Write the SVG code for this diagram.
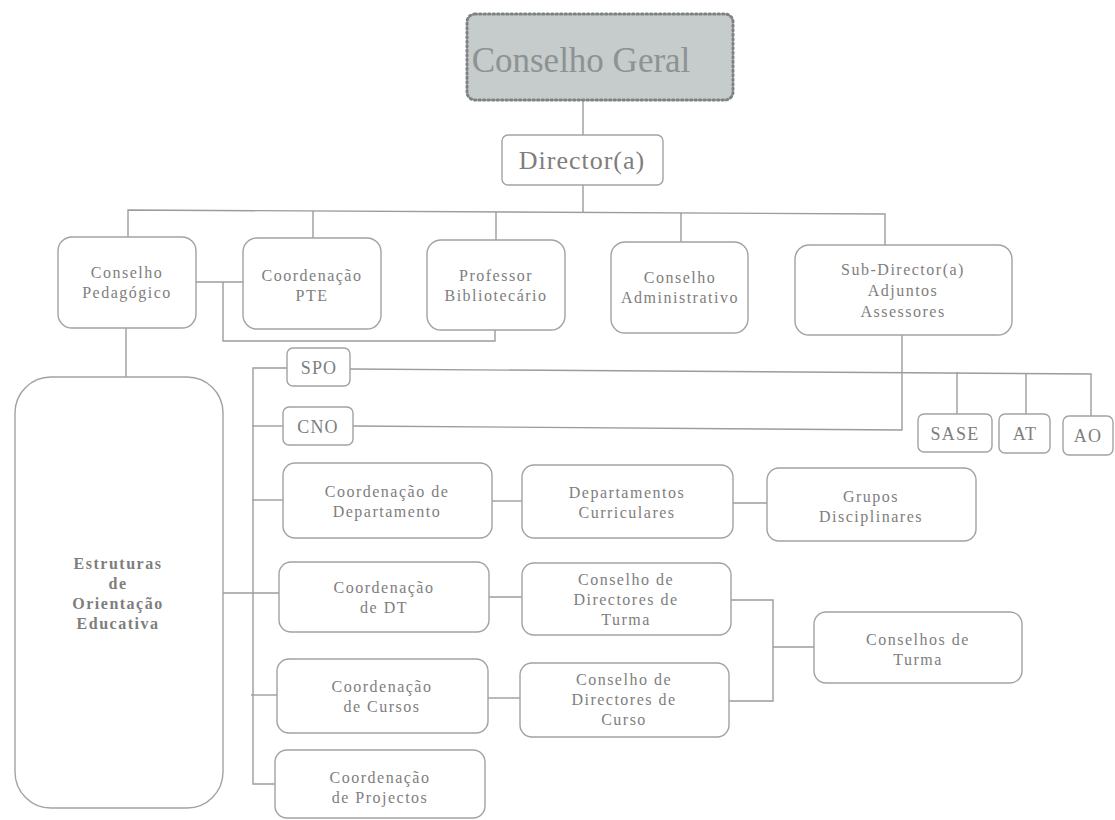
<svg xmlns="http://www.w3.org/2000/svg" width="1115" height="820" viewBox="0 0 1115 820">
<style>
.bx{fill:#fff;stroke:#a2a2a2;stroke-width:1.4}
.t{font-family:'Liberation Serif','DejaVu Serif',serif;font-size:16px;fill:#7e7e7e;text-anchor:middle;letter-spacing:1.5px}
.ts{font-family:'Liberation Serif','DejaVu Serif',serif;font-size:18px;fill:#7e7e7e;text-anchor:middle;letter-spacing:1.2px}
.c{fill:none;stroke:#9c9c9c;stroke-width:1.4}
.big{font-family:'Liberation Serif','DejaVu Serif',serif;text-anchor:middle}
</style>
<rect width="1115" height="820" fill="#fff"/>
<g id="connectors" class="c">
<path d="M583,100 V135"/>
<path d="M583,185 V212"/>
<path d="M128,237 V210 L885,214 V245"/>
<path d="M313,211 V238"/>
<path d="M496,212 V240"/>
<path d="M681,213 V242"/>
<path d="M196,282 H243"/>
<path d="M223,282 V341 H495 V330"/>
<path d="M126,328 V377"/>
<path d="M350,369 L1091,374 V416"/>
<path d="M957,372 V414"/>
<path d="M1026,373 V414"/>
<path d="M902,335 V430 L353,426"/>
<path d="M287,368 H253 V784 H275"/>
<path d="M252,426 H283"/>
<path d="M252,500 H283"/>
<path d="M222,593 H279"/>
<path d="M251,695 H277"/>
<path d="M492,501 H522"/>
<path d="M733,503 H767"/>
<path d="M489,597 H522"/>
<path d="M488,698 H520"/>
<path d="M731,600 H773 V701 H729"/>
<path d="M773,647 H814"/>
</g>
<g id="conselho-geral">
<rect x="467" y="14" width="266" height="86" rx="8" fill="#c6cbcb" stroke="#7f8383" stroke-width="3" stroke-dasharray="1.5 3" stroke-linecap="round"/>
<text class="big" x="581" y="72" font-size="35" fill="#8d9292">Conselho Geral</text>
</g>
<g id="director">
<rect class="bx" x="502" y="135" width="161" height="50" rx="6"/>
<text class="big" x="582" y="169" font-size="26" fill="#7e7e7e" letter-spacing="1">Director(a)</text>
</g>
<g id="conselho-pedagogico">
<rect class="bx" x="58" y="237" width="138" height="91" rx="14"/>
<text class="t" x="127" y="278">Conselho</text>
<text class="t" x="127" y="298">Pedagógico</text>
</g>
<g id="coordenacao-pte">
<rect class="bx" x="243" y="238" width="138" height="91" rx="14"/>
<text class="t" x="312" y="281">Coordenação</text>
<text class="t" x="312" y="301">PTE</text>
</g>
<g id="professor-bibliotecario">
<rect class="bx" x="427" y="240" width="138" height="90" rx="14"/>
<text class="t" x="496" y="281">Professor</text>
<text class="t" x="496" y="301">Bibliotecário</text>
</g>
<g id="conselho-administrativo">
<rect class="bx" x="611" y="242" width="137" height="91" rx="14"/>
<text class="t" x="680" y="283">Conselho</text>
<text class="t" x="680" y="303">Administrativo</text>
</g>
<g id="sub-director">
<rect class="bx" x="795" y="245" width="217" height="90" rx="14"/>
<text class="t" x="903" y="275">Sub-Director(a)</text>
<text class="t" x="903" y="296">Adjuntos</text>
<text class="t" x="903" y="317">Assessores</text>
</g>
<g id="estruturas">
<rect class="bx" x="15" y="377" width="208" height="431" rx="36"/>
<text class="t" x="118" y="569" font-weight="bold" letter-spacing="2">Estruturas</text>
<text class="t" x="118" y="589" font-weight="bold" letter-spacing="2">de</text>
<text class="t" x="118" y="609" font-weight="bold" letter-spacing="2">Orientação</text>
<text class="t" x="118" y="629" font-weight="bold" letter-spacing="2">Educativa</text>
</g>
<g id="spo">
<rect class="bx" x="287" y="348" width="63" height="38" rx="6"/>
<text class="ts" x="319" y="374">SPO</text>
</g>
<g id="cno">
<rect class="bx" x="283" y="407" width="70" height="38" rx="6"/>
<text class="ts" x="318" y="433">CNO</text>
</g>
<g id="sase">
<rect class="bx" x="918" y="414" width="74" height="38" rx="6"/>
<text class="ts" x="955" y="440">SASE</text>
</g>
<g id="at">
<rect class="bx" x="999" y="414" width="51" height="39" rx="6"/>
<text class="ts" x="1025" y="440">AT</text>
</g>
<g id="ao">
<rect class="bx" x="1063" y="416" width="50" height="39" rx="6"/>
<text class="ts" x="1088" y="442">AO</text>
</g>
<g id="coordenacao-departamento">
<rect class="bx" x="283" y="463" width="209" height="75" rx="12"/>
<text class="t" x="387" y="497">Coordenação de</text>
<text class="t" x="387" y="517">Departamento</text>
</g>
<g id="departamentos-curriculares">
<rect class="bx" x="522" y="465" width="211" height="73" rx="12"/>
<text class="t" x="627" y="498">Departamentos</text>
<text class="t" x="627" y="518">Curriculares</text>
</g>
<g id="grupos-disciplinares">
<rect class="bx" x="767" y="468" width="209" height="73" rx="12"/>
<text class="t" x="871" y="502">Grupos</text>
<text class="t" x="871" y="522">Disciplinares</text>
</g>
<g id="coordenacao-dt">
<rect class="bx" x="279" y="562" width="210" height="70" rx="12"/>
<text class="t" x="384" y="593">Coordenação</text>
<text class="t" x="384" y="613">de DT</text>
</g>
<g id="conselho-directores-turma">
<rect class="bx" x="522" y="563" width="209" height="72" rx="12"/>
<text class="t" x="626" y="585">Conselho de</text>
<text class="t" x="626" y="605">Directores de</text>
<text class="t" x="626" y="625">Turma</text>
</g>
<g id="conselhos-turma">
<rect class="bx" x="814" y="612" width="208" height="71" rx="12"/>
<text class="t" x="918" y="645">Conselhos de</text>
<text class="t" x="918" y="665">Turma</text>
</g>
<g id="coordenacao-cursos">
<rect class="bx" x="277" y="659" width="211" height="74" rx="12"/>
<text class="t" x="382" y="692">Coordenação</text>
<text class="t" x="382" y="712">de Cursos</text>
</g>
<g id="conselho-directores-curso">
<rect class="bx" x="520" y="663" width="209" height="74" rx="12"/>
<text class="t" x="624" y="685">Conselho de</text>
<text class="t" x="624" y="705">Directores de</text>
<text class="t" x="624" y="725">Curso</text>
</g>
<g id="coordenacao-projectos">
<rect class="bx" x="275" y="750" width="210" height="68" rx="12"/>
<text class="t" x="380" y="783">Coordenação</text>
<text class="t" x="380" y="803">de Projectos</text>
</g>
</svg>
